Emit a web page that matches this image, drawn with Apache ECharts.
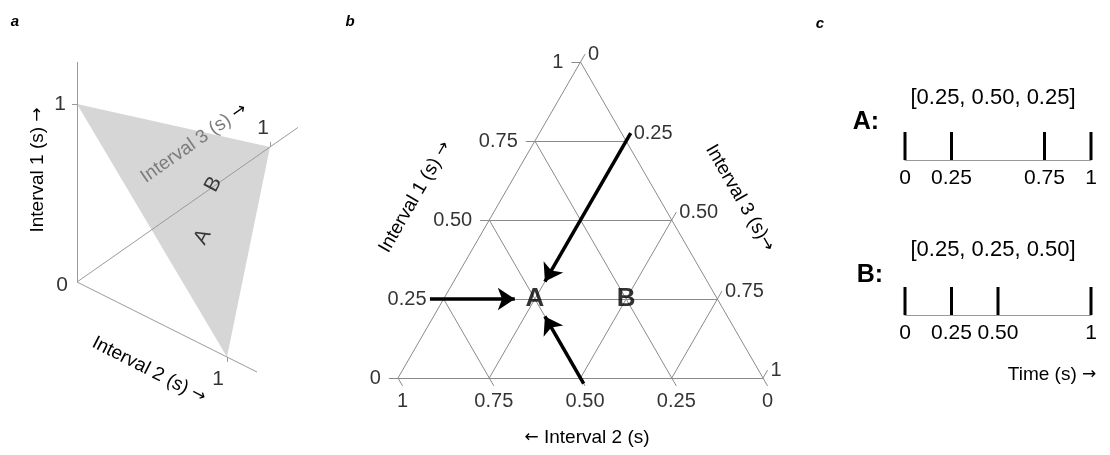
<!DOCTYPE html>
<html lang="en">
<head>
<meta charset="UTF-8"/>
<script src="https://cdn.jsdelivr.net/npm/echarts@6/dist/echarts.min.js"></script>
<style>html,body{margin:0;padding:0;background:#fff;}</style>
</head>
<body>
<div id="main" style="width:1110px;height:455px;"></div>
<script type="text/javascript">
    // rhythms as [interval 1, interval 2, interval 3] in seconds
    var pointNames = ['A', 'B'];
    var intervalsA = [0.25, 0.50, 0.25];
    var intervalsB = [0.25, 0.25, 0.50];
    var gridSteps = [0, 0.25, 0.5, 0.75, 1];
    // panel b arrows: start point on the grid, drawn toward A (start/end fraction of the way)
    var arrowFrom = [[0.25, 0.75, 0], [0.75, 0, 0.25], [0, 0.5, 0.5]];
    var arrowStart = [-0.15, -0.05, -0.07];
    var arrowEnd = [0.78, 0.89, 0.78];
    // panel a: simplex corners
    var simplex = [[1, 0, 0], [0, 1, 0], [0, 0, 1]];

    var FONT = '"Liberation Sans", Arial, Helvetica, sans-serif';
    var ARROWFONT = '"DejaVu Sans", sans-serif';
    var H = Math.sqrt(3) / 2;
    var TICK = 0.025;

    function fmt(v) { return (v === 0 || v === 1) ? String(v) : v.toFixed(2); }
    // ternary -> flat triangle (panel b)
    function tern(p) { return [p[2] + p[0] / 2, p[0] * H]; }
    // 3d axes projection (panel a)
    var projV = [[0, 178], [150, -75], [193, 135]];
    var axisExt = [1.236, 1.2, 1.145];
    function proj(p) {
        return [p[0] * projV[0][0] + p[1] * projV[1][0] + p[2] * projV[2][0],
                p[0] * projV[0][1] + p[1] * projV[1][1] + p[2] * projV[2][1]];
    }
    function onsets(iv) {
        var out = [0], s = 0;
        iv.forEach(function (d) { s += d; out.push(Math.round(s * 1000) / 1000); });
        return out;
    }

    // ---- panel b geometry
    var triLines = [], lab1 = [], lab2 = [], lab3 = [];
    gridSteps.forEach(function (v) {
        var l = tern([v, 1 - v, 0]), r = tern([v, 0, 1 - v]);
        var t1 = [l[0] - TICK, l[1]];
        triLines.push({coords: [t1, r]});
        lab1.push({value: t1, name: fmt(v)});

        var a = tern([1 - v, v, 0]), b = tern([0, v, 1 - v]);
        var t2 = [b[0] + TICK * 0.5, b[1] - TICK * H];
        triLines.push({coords: [a, t2]});
        lab2.push({value: t2, name: fmt(v)});

        var c = tern([0, 1 - v, v]), d = tern([1 - v, 0, v]);
        var t3 = [d[0] + TICK * 0.5, d[1] + TICK * H];
        triLines.push({coords: [c, t3]});
        lab3.push({value: t3, name: fmt(v)});
    });
    var target = tern(intervalsA);
    var arrows = arrowFrom.map(function (p, i) {
        var s = tern(p);
        var dx = target[0] - s[0], dy = target[1] - s[1];
        return {coords: [[s[0] + dx * arrowStart[i], s[1] + dy * arrowStart[i]],
                         [s[0] + dx * arrowEnd[i], s[1] + dy * arrowEnd[i]]]};
    });
    var pointsB = [intervalsA, intervalsB].map(function (p, i) {
        return {value: tern(p), name: pointNames[i]};
    });

    // ---- panel a geometry
    var axesA = simplex.map(function (u, i) {
        var e = proj(u);
        return {coords: [[0, 0], [e[0] * axisExt[i], e[1] * axisExt[i]]]};
    });
    var c1 = proj(simplex[0]), c2 = proj(simplex[1]), c3 = proj(simplex[2]);
    var ticksA = [
        {coords: [[c1[0] - 5, c1[1]], c1]},
        {coords: [c2, [c2[0], c2[1] - 5]]},
        {coords: [c3, [c3[0], c3[1] + 5]]}
    ];
    var pointsA = [intervalsA, intervalsB].map(function (p, i) {
        return {value: proj(p), name: pointNames[i]};
    });

    var onA = onsets(intervalsA), onB = onsets(intervalsB);

    // text with optional arrow glyph drawn in DejaVu
    function text(x, y, str, size, deg, opt) {
        opt = opt || {};
        var col = opt.fill || '#000';
        var st = {text: str, font: (opt.weight ? opt.weight + ' ' : '') + size + 'px ' + FONT,
                  fill: col, textAlign: 'center', textVerticalAlign: 'middle',
                  rich: {
                      t: {fill: col, font: size + 'px ' + FONT},
                      r: {fill: '#000', font: (size - 2) + 'px ' + ARROWFONT}
                  }};
        return {type: 'text', z: 100, x: x, y: y, rotation: (deg || 0) * Math.PI / 180, style: st};
    }

    function timeAxis(grid, vals) {
        return {
            gridIndex: grid, type: 'value', min: 0, max: 1,
            axisLine: {show: true, lineStyle: {color: '#999', width: 1}},
            axisTick: {show: false}, splitLine: {show: false},
            axisLabel: {customValues: vals, formatter: fmt, color: '#000', fontSize: 21,
                        fontFamily: FONT, margin: 8}
        };
    }

    var myChart = echarts.init(document.getElementById('main'));
    var options = {
        animation: false,
        grid: [
            {left: 37, top: 52, width: 280, height: 330},
            {left: 398, top: 62, width: 365, height: 316},
            {left: 905, top: 132, width: 186, height: 28},
            {left: 905, top: 287, width: 186, height: 28}
        ],
        xAxis: [
            {gridIndex: 0, type: 'value', min: -40, max: 240, show: false},
            {gridIndex: 1, type: 'value', min: 0, max: 1, show: false},
            timeAxis(2, onA),
            timeAxis(3, onB)
        ],
        yAxis: [
            {gridIndex: 0, type: 'value', min: -100, max: 230, show: false},
            {gridIndex: 1, type: 'value', min: 0, max: H, show: false},
            {gridIndex: 2, type: 'value', min: 0, max: 1, show: false},
            {gridIndex: 3, type: 'value', min: 0, max: 1, show: false}
        ],
        series: [
            {
                type: 'custom', xAxisIndex: 0, yAxisIndex: 0, z: 1, clip: false,
                data: [[c1[0], c1[1], c2[0], c2[1], c3[0], c3[1]]],
                renderItem: function (params, api) {
                    return {
                        type: 'polygon',
                        shape: {points: [api.coord([api.value(0), api.value(1)]),
                                         api.coord([api.value(2), api.value(3)]),
                                         api.coord([api.value(4), api.value(5)])]},
                        style: {fill: '#d6d6d6'}
                    };
                }
            },
            {
                type: 'lines', coordinateSystem: 'cartesian2d', xAxisIndex: 0, yAxisIndex: 0, z: 2, clip: false,
                lineStyle: {color: '#9a9a9a', width: 1, opacity: 1},
                data: axesA.concat(ticksA)
            },
            {
                type: 'scatter', xAxisIndex: 0, yAxisIndex: 0, symbolSize: 0, z: 3, clip: false,
                label: {show: true, formatter: '{b}', rotate: 62, fontSize: 21, fontFamily: FONT,
                        color: '#111', position: 'inside', offset: [5, 0]},
                data: pointsA
            },
            {
                type: 'scatter', xAxisIndex: 0, yAxisIndex: 0, symbolSize: 0, z: 3, clip: false,
                label: {show: true, formatter: '{b}', fontSize: 21, fontFamily: FONT, color: '#000',
                        position: 'inside'},
                data: [
                    {value: [0, 0], name: '0', label: {offset: [-15, 3]}},
                    {value: c1, name: '1', label: {offset: [-17, 0]}},
                    {value: c2, name: '1', label: {offset: [-9, 22]}},
                    {value: c3, name: '1', label: {offset: [-7, -19]}}
                ]
            },
            {
                type: 'lines', coordinateSystem: 'cartesian2d', xAxisIndex: 1, yAxisIndex: 1, z: 2, clip: false,
                lineStyle: {color: '#8a8a8a', width: 1, opacity: 1},
                data: triLines
            },
            {
                type: 'lines', coordinateSystem: 'cartesian2d', xAxisIndex: 1, yAxisIndex: 1, z: 4, clip: false,
                symbol: ['none', 'arrow'], symbolSize: 17,
                lineStyle: {color: '#000', width: 3.5, opacity: 1},
                data: arrows
            },
            {
                type: 'scatter', xAxisIndex: 1, yAxisIndex: 1, symbolSize: 0, clip: false,
                label: {show: true, formatter: '{b}', position: 'left', distance: 8,
                        fontSize: 20, fontFamily: FONT, color: '#000'},
                data: lab1
            },
            {
                type: 'scatter', xAxisIndex: 1, yAxisIndex: 1, symbolSize: 0, clip: false,
                label: {show: true, formatter: '{b}', position: 'bottom', distance: 6,
                        fontSize: 20, fontFamily: FONT, color: '#000'},
                data: lab2
            },
            {
                type: 'scatter', xAxisIndex: 1, yAxisIndex: 1, symbolSize: 0, clip: false,
                label: {show: true, formatter: '{b}', position: 'right', distance: 3,
                        fontSize: 20, fontFamily: FONT, color: '#000'},
                data: lab3
            },
            {
                type: 'scatter', xAxisIndex: 1, yAxisIndex: 1, symbolSize: 0, z: 5, clip: false,
                label: {show: true, formatter: '{b}', position: 'inside', fontSize: 26,
                        fontWeight: 'bold', fontFamily: FONT, color: '#000'},
                data: pointsB
            },
            {
                type: 'bar', xAxisIndex: 2, yAxisIndex: 2, barWidth: 3, clip: false,
                itemStyle: {color: '#000'},
                data: onA.map(function (t) { return [t, 1]; })
            },
            {
                type: 'bar', xAxisIndex: 3, yAxisIndex: 3, barWidth: 3, clip: false,
                itemStyle: {color: '#000'},
                data: onB.map(function (t) { return [t, 1]; })
            }
        ],
        graphic: [
            text(15, 22, 'a', 15, 0, {weight: 'italic bold'}),
            text(350, 22, 'b', 15, 0, {weight: 'italic bold'}),
            text(820, 24, 'c', 15, 0, {weight: 'italic bold'}),
            text(38, 170, '{t|Interval 1 (s)} {r|\u2192}', 19, 90),
            text(149, 370, '{t|Interval 2 (s)} {r|\u2192}', 19, -27),
            text(194, 143, '{t|Interval 3 (s)} {r|\u2192}', 19, 35, {fill: '#7c7c7c'}),
            text(415, 197, '{t|Interval 1 (s)} {r|\u2192}', 19, 60),
            text(740, 198, '{t|Interval 3 (s)}{r|\u2192}', 19, -60),
            text(587, 438, '{r|\u2190} {t|Interval 2 (s)}', 19, 0),
            text(866, 122, 'A:', 25, 0, {weight: 'bold'}),
            text(870, 275, 'B:', 25, 0, {weight: 'bold'}),
            text(993, 98, '[' + intervalsA.map(fmt).join(', ') + ']', 22, 0),
            text(993, 250, '[' + intervalsB.map(fmt).join(', ') + ']', 22, 0),
            text(1052, 375, '{t|Time (s)} {r|\u2192}', 19, 0)
        ]
    };
    myChart.setOption(options);
</script>
</body>
</html>
